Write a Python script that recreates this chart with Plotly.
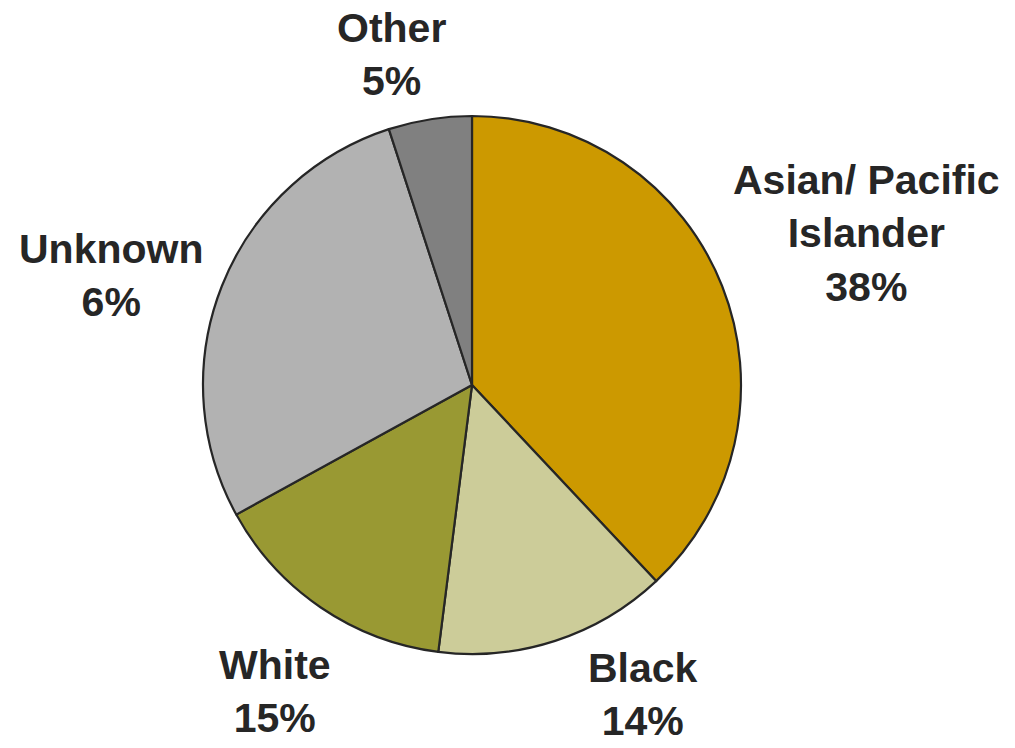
import plotly.graph_objects as go

# Race / ethnicity breakdown (slice sizes in percent)
categories = ["Asian/ Pacific Islander", "Black", "White", "Unknown", "Other"]
values = [38, 14, 15, 28, 5]
label_text = [
    "Asian/ Pacific<br>Islander<br>38%",
    "Black<br>14%",
    "White<br>15%",
    "Unknown<br>6%",
    "Other<br>5%",
]
colors = ["#CC9900", "#CCCC99", "#999933", "#B2B2B2", "#808080"]

W, H = 1015, 748
# label centres in pixel space (x, y from top)
label_pos = [(866, 233), (643, 694), (275, 691), (111, 276), (391, 55)]

# pie placement: centre and radius in pixels
cx, cy, r = 472, 385, 269

fig = go.Figure(
    go.Pie(
        labels=categories,
        values=values,
        sort=False,
        direction="clockwise",
        rotation=0,
        textinfo="none",
        hoverinfo="label+percent",
        marker=dict(colors=colors, line=dict(color="#262626", width=2.2)),
        domain=dict(
            x=[(cx - r) / W, (cx + r) / W],
            y=[(H - cy - r) / H, (H - cy + r) / H],
        ),
        showlegend=False,
    )
)

for txt, (px, py) in zip(label_text, label_pos):
    fig.add_annotation(
        x=px / W,
        y=1 - py / H,
        xref="paper",
        yref="paper",
        text="<b>" + txt + "</b>",
        showarrow=False,
        xanchor="center",
        yanchor="middle",
        align="center",
        font=dict(family="Liberation Sans, Arial, sans-serif", size=41, color="#262626"),
    )

fig.update_layout(
    width=W,
    height=H,
    margin=dict(l=0, r=0, t=0, b=0),
    paper_bgcolor="white",
    plot_bgcolor="white",
)

fig.write_html("out.html")
